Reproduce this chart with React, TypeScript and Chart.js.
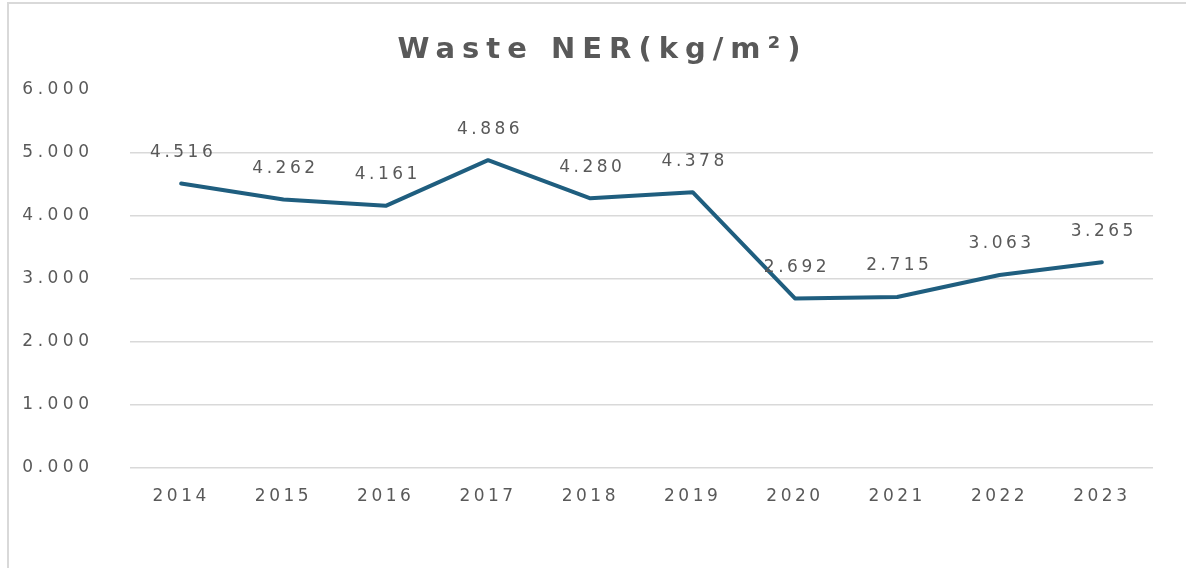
import React, { useEffect, useRef } from "react";
import { Chart, registerables } from "chart.js";

Chart.register(...registerables);

const TITLE = "Waste NER(kg/m²)";
const categories = ["2014", "2015", "2016", "2017", "2018", "2019", "2020", "2021", "2022", "2023"];
const nerValues = [4.516, 4.262, 4.161, 4.886, 4.28, 4.378, 2.692, 2.715, 3.063, 3.265];
const yMin = 0;
const yMax = 6;
const yStep = 1;

const TEXT_COLOR = "#595959";
const LINE_COLOR = "#1F5E7F";
const GRID_COLOR = "#D9D9D9";
const FONT_FAMILY = "'DejaVu Sans', sans-serif";
const TEXT_SPACING = "3.5px";
const YTICK_SPACING = "4.5px";
const TITLE_SPACING = "7px";
const TITLE_SHIFT = 16;

const spacingPlugin = {
  id: "spacingPlugin",
  beforeDraw(chart: any) {
    const ctx = chart.ctx;
    ctx.letterSpacing = TEXT_SPACING;
    const tb = chart.titleBlock;
    if (tb && !tb.__patched) {
      const orig = tb.draw;
      tb.draw = function (...args: any[]) {
        const c = this.ctx;
        c.save();
        c.letterSpacing = TITLE_SPACING;
        c.translate(TITLE_SHIFT, 0);
        orig.apply(this, args);
        c.restore();
      };
      tb.__patched = true;
    }
    const ys = chart.scales.y;
    if (ys && !ys.__patched) {
      const origLabels = ys.drawLabels;
      ys.drawLabels = function (...args: any[]) {
        const c = this.ctx;
        c.save();
        c.letterSpacing = YTICK_SPACING;
        origLabels.apply(this, args);
        c.restore();
      };
      ys.__patched = true;
    }
  },
  afterDraw(chart: any) {
    chart.ctx.letterSpacing = "0px";
  },
};

const valueLabelPlugin = {
  id: "valueLabelPlugin",
  afterDatasetsDraw(chart: any) {
    const ctx = chart.ctx;
    const meta = chart.getDatasetMeta(0);
    const data = chart.data.datasets[0].data as number[];
    ctx.save();
    ctx.letterSpacing = TEXT_SPACING;
    ctx.font = `17px ${FONT_FAMILY}`;
    ctx.fillStyle = TEXT_COLOR;
    ctx.textAlign = "center";
    ctx.textBaseline = "middle";
    meta.data.forEach((pt: any, i: number) => {
      ctx.fillText(data[i].toFixed(3), pt.x + 2, pt.y - 31);
    });
    ctx.restore();
  },
};

export default function App() {
  const canvasRef = useRef<HTMLCanvasElement | null>(null);

  useEffect(() => {
    if (!canvasRef.current) return;
    const chart = new Chart(canvasRef.current, {
      type: "line",
      data: {
        labels: categories,
        datasets: [
          {
            data: nerValues,
            borderColor: LINE_COLOR,
            backgroundColor: LINE_COLOR,
            borderWidth: 4,
            pointRadius: 0,
            tension: 0,
            borderJoinStyle: "round",
            borderCapStyle: "round",
          },
        ],
      },
      options: {
        responsive: false,
        animation: false,
        devicePixelRatio: 1,
        layout: { padding: { top: 10, left: 20, right: 33, bottom: 0 } },
        plugins: {
          legend: { display: false },
          tooltip: { enabled: false },
          title: {
            display: true,
            text: TITLE,
            color: TEXT_COLOR,
            font: { family: FONT_FAMILY, size: 29, weight: "bold", lineHeight: 1.2 },
            padding: { top: 23, bottom: 22.2 },
          },
        },
        scales: {
          x: {
            offset: true,
            grid: { display: false, drawTicks: false },
            border: { display: false },
            ticks: {
              color: TEXT_COLOR,
              font: { family: FONT_FAMILY, size: 17 },
              padding: 18,
              maxRotation: 0,
              autoSkip: false,
            },
            afterFit: (scale: any) => {
              scale.height = 100;
            },
          },
          y: {
            min: yMin,
            max: yMax,
            grid: {
              drawTicks: false,
              lineWidth: 1.5,
              color: (c: any) => (c.tick && c.tick.value === yMax ? "rgba(0,0,0,0)" : GRID_COLOR),
            },
            border: { display: false },
            ticks: {
              stepSize: yStep,
              color: TEXT_COLOR,
              font: { family: FONT_FAMILY, size: 17 },
              crossAlign: "near",
              padding: 36.5,
              callback: (v: any) => Number(v).toFixed(3),
            },
            afterFit: (scale: any) => {
              scale.width = 110;
            },
          },
        },
      },
      plugins: [spacingPlugin, valueLabelPlugin],
    });
    return () => chart.destroy();
  }, []);

  return (
    <div style={{ position: "fixed", left: 0, top: 0, width: 1186, height: 568, overflow: "hidden", background: "#fff" }}>
      <div
        style={{
          position: "absolute",
          left: 7,
          top: 2,
          width: 1300,
          height: 700,
          borderLeft: `2px solid ${GRID_COLOR}`,
          borderTop: `2px solid ${GRID_COLOR}`,
        }}
      />
      <canvas ref={canvasRef} width={1186} height={568} style={{ position: "absolute", left: 0, top: 0 }} />
    </div>
  );
}
